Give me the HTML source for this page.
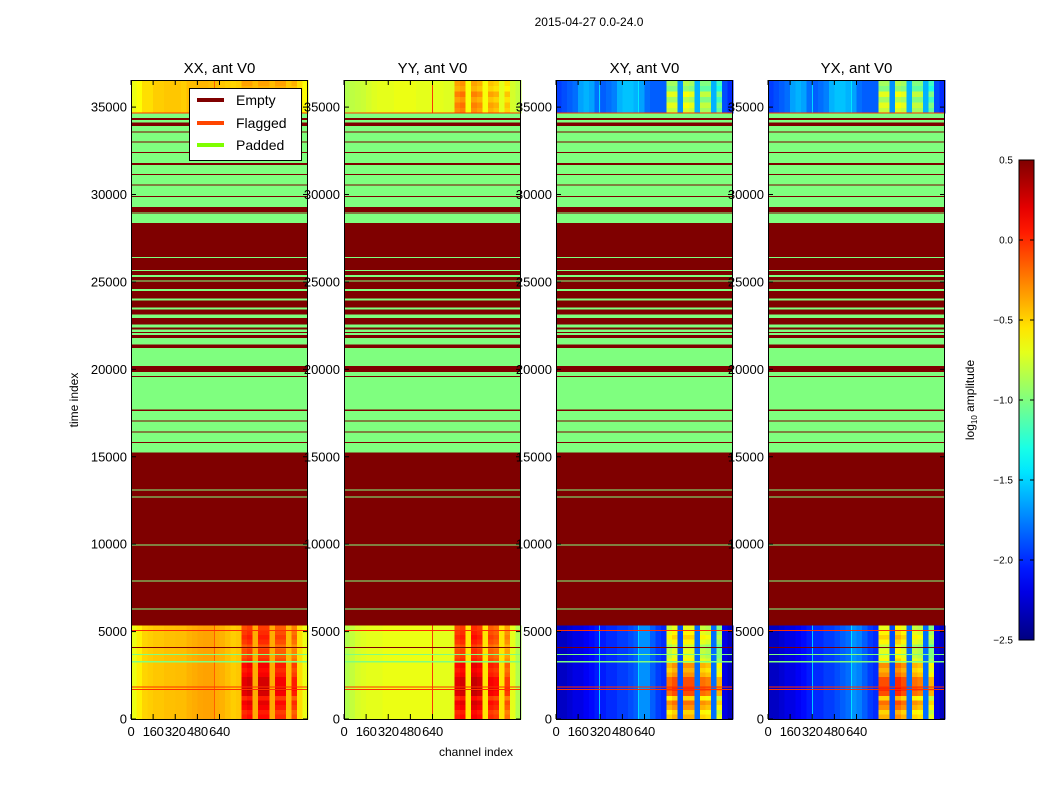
<!DOCTYPE html>
<html><head><meta charset="utf-8"><style>
body{margin:0;background:#fff;}
svg{display:block;font-family:"Liberation Sans",sans-serif;}
</style></head><body>
<svg id="fig" width="1050" height="800" xmlns="http://www.w3.org/2000/svg">
<rect width="1050" height="800" fill="#fff"/>
<text x="589" y="26" font-size="12" text-anchor="middle">2015-04-27 0.0-24.0</text>
<g id="panels"></g>
<text transform="translate(78,400) rotate(-90)" font-size="12" text-anchor="middle">time index</text>
<text x="476" y="756" font-size="12" text-anchor="middle">channel index</text>
<g id="legend">
<rect x="189.5" y="88.5" width="112" height="72" fill="#fff" stroke="#000"/>
<g><line x1="197" y1="100" x2="224" y2="100" stroke="#800000" stroke-width="4"/><text x="236" y="105" font-size="14">Empty</text></g>
<g><line x1="197" y1="123" x2="224" y2="123" stroke="#ff4500" stroke-width="4"/><text x="236" y="128" font-size="14">Flagged</text></g>
<g><line x1="197" y1="145" x2="224" y2="145" stroke="#7fff00" stroke-width="4"/><text x="236" y="150" font-size="14">Padded</text></g>
</g>
<g id="cbar"></g>
<text transform="translate(974,400) rotate(-90)" font-size="12" text-anchor="middle">log<tspan font-size="8" dy="3">10</tspan><tspan dy="-3"> amplitude</tspan></text>
</svg>
<script>
const panelTitles = ["XX, ant V0","YY, ant V0","XY, ant V0","YX, ant V0"];
const yTicks = [0,5000,10000,15000,20000,25000,30000,35000];
const xTicks = [0,160,320,480,640];
const cbTicks = [-2.5,-2.0,-1.5,-1.0,-0.5,0.0,0.5];
const emptyBands = [[5359,15230],[15800,15850],[16390,16440],[17020,17070],[17631,17712],[19550,19605],[19862,20205],[21235,28384],[28930,28985],[29013,29281],[29865,29920],[30510,30565],[31120,31175],[31700,31810],[32380,32435],[32990,33045],[33560,33615],[33931,34125],[34255,34388]];
const paddedBands = [[6260,6320],[7860,7920],[9920,9980],[12665,12725],[13065,13125],[21429,21807],[21960,22075],[22150,22287],[22401,22573],[22950,23144],[23430,23544],[23944,24058],[24477,24591],[25020,25075],[25276,25391],[25620,25677],[26375,26430]];
const flaggedRows = [[1680,1720],[1830,1870],[5050,5100],[34640,34690]];
const emptyRows = [[4080,4130]];
const paddedRows = [[3680,3730],[3220,3317]];
const colLowXX = [-0.68,-0.58,-0.5,-0.48,-0.46,-0.46,-0.44,-0.44,-0.43,-0.43,-0.4,-0.38,-0.36,-0.35,-0.35,-0.38,-0.4,-0.44,-0.48,-0.46,-0.1,-0.05,-0.38,-0.05,-0.05,-0.38,-0.15,-0.15,-0.43,-0.25,-0.53,-0.68];
const colHighXX = [-0.68,-0.63,-0.53,-0.53,-0.48,-0.48,-0.46,-0.46,-0.46,-0.48,-0.43,-0.43,-0.41,-0.41,-0.43,-0.43,-0.46,-0.48,-0.5,-0.48,-0.35,-0.35,-0.43,-0.35,-0.35,-0.43,-0.35,-0.35,-0.46,-0.4,-0.53,-0.63];
const colLowYY = [-0.85,-0.8,-0.75,-0.72,-0.7,-0.7,-0.7,-0.68,-0.68,-0.68,-0.68,-0.68,-0.68,-0.68,-0.68,-0.68,-0.7,-0.7,-0.7,-0.7,-0.1,-0.05,-0.55,0.0,-0.05,-0.55,-0.15,-0.2,-0.55,-0.35,-0.7,-0.85];
const colHighYY = [-0.85,-0.82,-0.8,-0.78,-0.75,-0.72,-0.7,-0.7,-0.7,-0.68,-0.68,-0.68,-0.68,-0.7,-0.7,-0.7,-0.7,-0.7,-0.72,-0.72,-0.35,-0.3,-0.65,-0.35,-0.4,-0.65,-0.45,-0.5,-0.7,-0.55,-0.75,-0.8];
const colLowXY = [-2.3,-2.3,-2.25,-2.2,-2.2,-2.15,-2.1,-2.05,-2.05,-2.0,-2.0,-1.95,-1.95,-1.9,-1.85,-1.7,-1.7,-1.85,-1.95,-2.0,-0.8,-0.7,-1.9,-0.7,-0.7,-1.8,-0.8,-0.85,-1.8,-1.0,-2.2,-2.3];
const colHighXY = [-1.95,-1.9,-1.85,-1.8,-1.65,-1.6,-1.65,-1.8,-1.85,-1.8,-1.75,-1.6,-1.55,-1.55,-1.6,-1.65,-1.8,-1.85,-1.85,-1.85,-0.9,-0.9,-1.7,-0.85,-0.9,-1.6,-1.0,-1.0,-1.6,-1.2,-1.9,-2.0];
const colLowYX = [-2.3,-2.3,-2.25,-2.2,-2.2,-2.15,-2.1,-2.05,-2.0,-2.0,-1.95,-1.95,-1.9,-1.85,-1.8,-1.7,-1.75,-1.85,-1.95,-2.0,-0.7,-0.7,-1.9,-0.6,-0.7,-1.8,-0.8,-0.85,-1.8,-1.0,-2.2,-2.3];
const colHighYX = [-1.95,-1.9,-1.85,-1.8,-1.65,-1.6,-1.65,-1.8,-1.85,-1.8,-1.75,-1.6,-1.55,-1.55,-1.6,-1.65,-1.8,-1.85,-1.85,-1.85,-0.9,-0.9,-1.7,-0.85,-0.9,-1.6,-1.0,-1.0,-1.6,-1.2,-1.9,-2.0];
const stripeMask = [0,0,0,0,0,0,0,0,0,0,0,0,0,0,0,0,0,0,0,0,1,1,0,1,1,0,1,1,0,1,0,0];
const rowModLow = [0.15,0.1,0.2,0.25,0.1,0.3,0.35,0.3,0.3,0.2,0.15,0.2,0.05,0.0,0.0,-0.05,0.05,0.1,0.05,0.0];
const rowModHigh = [0.05,0.1,0.0,0.1,-0.05,0.0];
const stripeGain = [1,1,2,2];
const vLineCh = [[600],[636],[311,593],[318,600]];
const vLineVal = [-0.1,0.1,-1.4,-1.4];
</script>
<script>
const NS="http://www.w3.org/2000/svg";
const PX=[131,344,556,768], PW=177, Y0=719, YT=80, YMAX=36550, NCH=1280;
const LOWTOP=5359, HIGHBOT=34656;
const lowCols=[colLowXX,colLowYY,colLowXY,colLowYX];
const highCols=[colHighXX,colHighYY,colHighXY,colHighYX];
function ys(v){return Y0-(v/YMAX)*(Y0-YT);}
function xs(p,ch){return PX[p]+ch/NCH*PW;}
function clamp(a){return Math.max(0,Math.min(1,a));}
function jet(v){let t=(v+2.5)/3;t=clamp(t);
 const r=clamp(1.5-Math.abs(4*t-3)),g=clamp(1.5-Math.abs(4*t-2)),b=clamp(1.5-Math.abs(4*t-1));
 return `rgb(${Math.round(r*255)},${Math.round(g*255)},${Math.round(b*255)})`;}
function mk(tag,attrs,parent){const e=document.createElementNS(NS,tag);for(const k in attrs)e.setAttribute(k,attrs[k]);parent.appendChild(e);return e;}
const root=document.getElementById('panels');
const GREEN="#7fff7f", RED="#7f0000", FLAG="#ff3000";
for(let p=0;p<4;p++){
 const g=mk('g',{},root);
 
 
 const hm=mk('g',{'shape-rendering':'crispEdges'},g);
 
 
 const nc=lowCols[p].length, cw=NCH/nc;
 const nrL=rowModLow.length, rhL=LOWTOP/nrL;
 for(let r=0;r<nrL;r++)for(let c=0;c<nc;c++){
  const v=lowCols[p][c]+stripeMask[c]*rowModLow[r]*stripeGain[p];
  const y1=ys((r+1)*rhL), y2=ys(r*rhL);
  const e=mk('rect',{x:xs(p,c*cw),y:y1,width:PW/nc+0.3,height:y2-y1+0.3,fill:jet(v)},hm);
  
  
 }
 const nrH=rowModHigh.length, rhH=(YMAX-HIGHBOT)/nrH;
 for(let r=0;r<nrH;r++)for(let c=0;c<nc;c++){
  const v=highCols[p][c]+stripeMask[c]*rowModHigh[r]*stripeGain[p];
  const y1=ys(HIGHBOT+(r+1)*rhH), y2=ys(HIGHBOT+r*rhH);
  const e=mk('rect',{x:xs(p,c*cw),y:y1,width:PW/nc+0.3,height:y2-y1+0.3,fill:jet(v)},hm);
  
  
 }
 vLineCh[p].forEach(ch=>{const e=mk('rect',{x:xs(p,ch),y:YT,width:1,height:Y0-YT,fill:jet(vLineVal[p]),opacity:0.8},hm);
  
  });
 const base=mk('rect',{x:PX[p],y:ys(HIGHBOT),width:PW,height:ys(LOWTOP)-ys(HIGHBOT),fill:GREEN},hm);
 
 
 const band=(arr,col,nm)=>arr.forEach(b=>{const y1=ys(b[1]),y2=ys(b[0]);
  const e=mk('rect',{x:PX[p],y:y1,width:PW,height:Math.max(1,y2-y1),fill:col},hm);
  
  });
 band(emptyBands,RED,'empty-band');
 band(paddedBands,GREEN,'padded-band');
 band(flaggedRows,FLAG,'flagged-row');
 band(emptyRows,RED,'empty-row');
 band(paddedRows,GREEN,'padded-row');
 const fr=mk('rect',{x:PX[p]+0.5,y:YT+0.5,width:PW-1,height:Y0-YT,fill:'none',stroke:'#000','stroke-width':1},g);
 
 
 const t=mk('text',{x:PX[p]+PW/2,y:73,'font-size':15,'text-anchor':'middle'},g);t.textContent=panelTitles[p];
 
 
 yTicks.forEach(v=>{const y=ys(v);
  mk('line',{x1:PX[p],x2:PX[p]+5,y1:y,y2:y,stroke:'#000'},g);
  mk('line',{x1:PX[p]+PW-5,x2:PX[p]+PW,y1:y,y2:y,stroke:'#000'},g);
  const l=mk('text',{x:PX[p]-4,y:y+4.5,'font-size':13,'text-anchor':'end'},g);l.textContent=v;
  
  });
 xTicks.forEach(v=>{const x=xs(p,v);
  mk('line',{x1:x,x2:x,y1:Y0,y2:Y0-5,stroke:'#000'},g);
  mk('line',{x1:x,x2:x,y1:YT,y2:YT+5,stroke:'#000'},g);
  const l=mk('text',{x:x,y:736,'font-size':13,'text-anchor':'middle','letter-spacing':'-0.3'},g);l.textContent=v;
  
  });
}
const cb=document.getElementById('cbar');
const CX=1019,CW=15,CT=160,CB=640,CMIN=-2.5,CMAX=0.5;
const grad=mk('linearGradient',{id:'jetg',x1:0,y1:1,x2:0,y2:0},mk('defs',{},cb));
for(let i=0;i<=20;i++){mk('stop',{offset:i/20,'stop-color':jet(CMIN+(CMAX-CMIN)*i/20)},grad);}
mk('rect',{x:CX,y:CT,width:CW,height:CB-CT,fill:'url(#jetg)',stroke:'#000'},cb);
cbTicks.forEach(v=>{const y=CB-(v-CMIN)/(CMAX-CMIN)*(CB-CT);
 mk('line',{x1:CX,x2:CX+4,y1:y,y2:y,stroke:'#000'},cb);
 mk('line',{x1:CX+CW-4,x2:CX+CW,y1:y,y2:y,stroke:'#000'},cb);
 const l=mk('text',{x:1013,y:y+3.5,'font-size':10,'text-anchor':'end'},cb);l.textContent=v.toFixed(1).replace('-','\u2212');
 
 });
</script>
</body></html>
